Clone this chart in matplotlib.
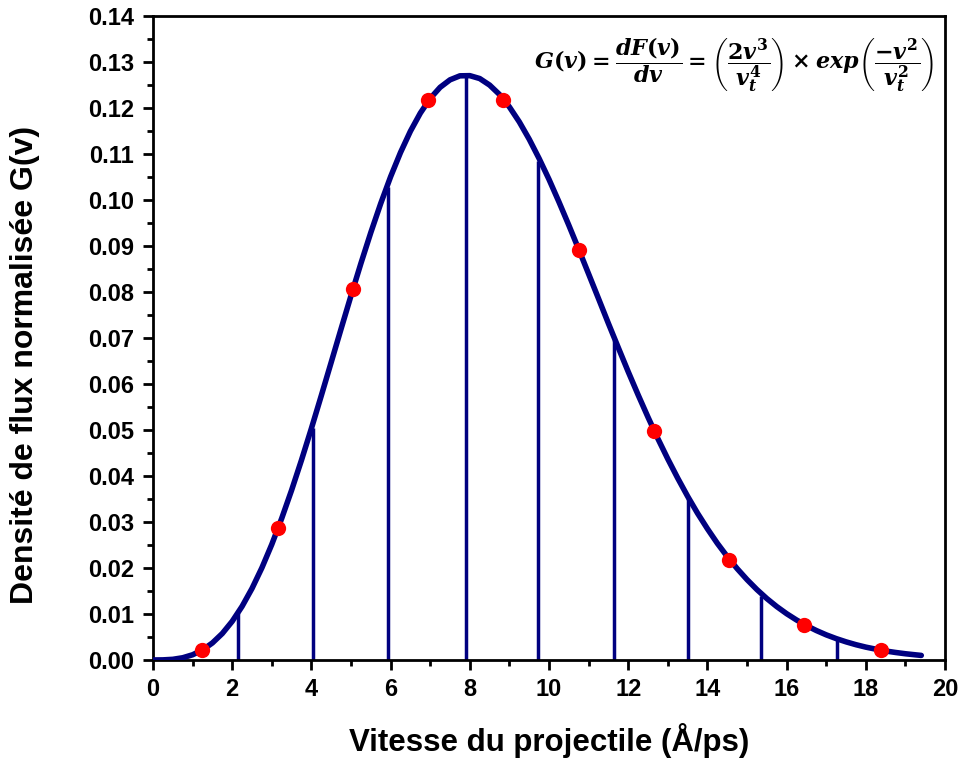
import matplotlib.pyplot as plt
from matplotlib.ticker import MultipleLocator, FormatStrFormatter

plt.rcParams['font.family'] = ['Liberation Sans', 'DejaVu Sans']
plt.rcParams['font.weight'] = 'bold'
plt.rcParams['mathtext.fontset'] = 'custom'
plt.rcParams['mathtext.rm'] = 'DejaVu Serif:bold'
plt.rcParams['mathtext.it'] = 'DejaVu Serif:italic:bold'
plt.rcParams['mathtext.bf'] = 'DejaVu Serif:bold'

# G(v) curve, sampled every 0.25 A/ps
curve_v = [0.0, 0.25, 0.5, 0.75, 1.0, 1.25, 1.5, 1.75, 2.0, 2.25, 2.5, 2.75,
           3.0, 3.25, 3.5, 3.75, 4.0, 4.25, 4.5, 4.75, 5.0, 5.25, 5.5, 5.75,
           6.0, 6.25, 6.5, 6.75, 7.0, 7.25, 7.5, 7.75, 8.0, 8.25, 8.5, 8.75,
           9.0, 9.25, 9.5, 9.75, 10.0, 10.25, 10.5, 10.75, 11.0, 11.25, 11.5,
           11.75, 12.0, 12.25, 12.5, 12.75, 13.0, 13.25, 13.5, 13.75, 14.0,
           14.25, 14.5, 14.75, 15.0, 15.25, 15.5, 15.75, 16.0, 16.25, 16.5,
           16.75, 17.0, 17.25, 17.5, 17.75, 18.0, 18.25, 18.5, 18.75, 19.0,
           19.25, 19.4]
curve_g = [0.0, 0.00002, 0.00014, 0.00048, 0.00113, 0.00217, 0.00370,
           0.00575, 0.00840, 0.01166, 0.01554, 0.02004, 0.02513, 0.03078,
           0.03691, 0.04346, 0.05034, 0.05747, 0.06472, 0.07200, 0.07920,
           0.08621, 0.09292, 0.09923, 0.10506, 0.11032, 0.11495, 0.11888,
           0.12208, 0.12449, 0.12612, 0.12699, 0.12703, 0.12640, 0.12498,
           0.12293, 0.12022, 0.11697, 0.11321, 0.10901, 0.10447, 0.09959,
           0.09451, 0.08927, 0.08392, 0.07855, 0.07315, 0.06788, 0.06266,
           0.05763, 0.05277, 0.04810, 0.04369, 0.03952, 0.03558, 0.03190,
           0.02852, 0.02536, 0.02249, 0.01986, 0.01747, 0.01530, 0.01335,
           0.01161, 0.01006, 0.00869, 0.00747, 0.00640, 0.00546, 0.00465,
           0.00394, 0.00332, 0.00279, 0.00235, 0.00195, 0.00163, 0.00135,
           0.00112, 0.00099]

# channel boundaries (vertical lines)
edge_v = [2.15, 4.04, 5.93, 7.91, 9.73, 11.65, 13.52, 15.36, 17.27]
edge_g = [0.0103, 0.0505, 0.1028, 0.1270, 0.1085, 0.0695, 0.0352, 0.0140, 0.0048]

# sampled velocities (red points)
point_v = [1.25, 3.15, 5.05, 6.95, 8.85, 10.75, 12.65, 14.55, 16.45, 18.38]
point_g = [0.0022, 0.0287, 0.0806, 0.1218, 0.1218, 0.0892, 0.0498, 0.0218,
           0.0076, 0.0021]

navy = '#000080'

fig = plt.figure(figsize=(9.61, 7.65), dpi=100)
ax = fig.add_axes([0.1592, 0.1373, 0.8242, 0.8418])

ax.vlines(edge_v, 0, edge_g, colors=navy, linewidth=2.5, zorder=2)
ax.plot(curve_v, curve_g, color=navy, linewidth=4.0, solid_capstyle='round',
        solid_joinstyle='round', zorder=3)
ax.plot(point_v, point_g, 'o', color='#ff0000', markersize=11,
        markeredgewidth=0, zorder=4)

ax.set_xlim(0, 20)
ax.set_ylim(0, 0.14)
ax.xaxis.set_major_locator(MultipleLocator(2))
ax.xaxis.set_minor_locator(MultipleLocator(1))
ax.yaxis.set_major_locator(MultipleLocator(0.01))
ax.yaxis.set_minor_locator(MultipleLocator(0.005))
ax.yaxis.set_major_formatter(FormatStrFormatter('%.2f'))

for s in ax.spines.values():
    s.set_linewidth(2.0)
ax.tick_params(which='major', direction='out', length=7.5, width=2.0,
               labelsize=17)
ax.tick_params(axis='x', which='major', pad=5.5)
ax.tick_params(axis='y', which='major', pad=6)
ax.tick_params(which='minor', direction='out', length=4.5, width=2.0)
for lbl in ax.get_xticklabels() + ax.get_yticklabels():
    lbl.set_fontweight('bold')

# axis titles placed in figure pixels
W, H = 961, 765
fig.text(549.5 / W, 14 / H, 'Vitesse du projectile (Å/ps)', fontsize=22.5,
         fontweight='bold', ha='center', va='baseline')
fig.text(25 / W, (H - 365) / H, 'Densité de flux normalisée G(v)',
         fontsize=23, fontweight='bold', rotation=90, ha='center',
         va='center')

ax.text(0.987, 0.925,
        r'$G(v) = \dfrac{dF(v)}{dv} = \left(\dfrac{2v^3}{v_t^4}\right)'
        r' \times exp\left(\dfrac{-v^2}{v_t^2}\right)$',
        transform=ax.transAxes, ha='right', va='center', fontsize=16)

fig.savefig('out.png', dpi=100)
